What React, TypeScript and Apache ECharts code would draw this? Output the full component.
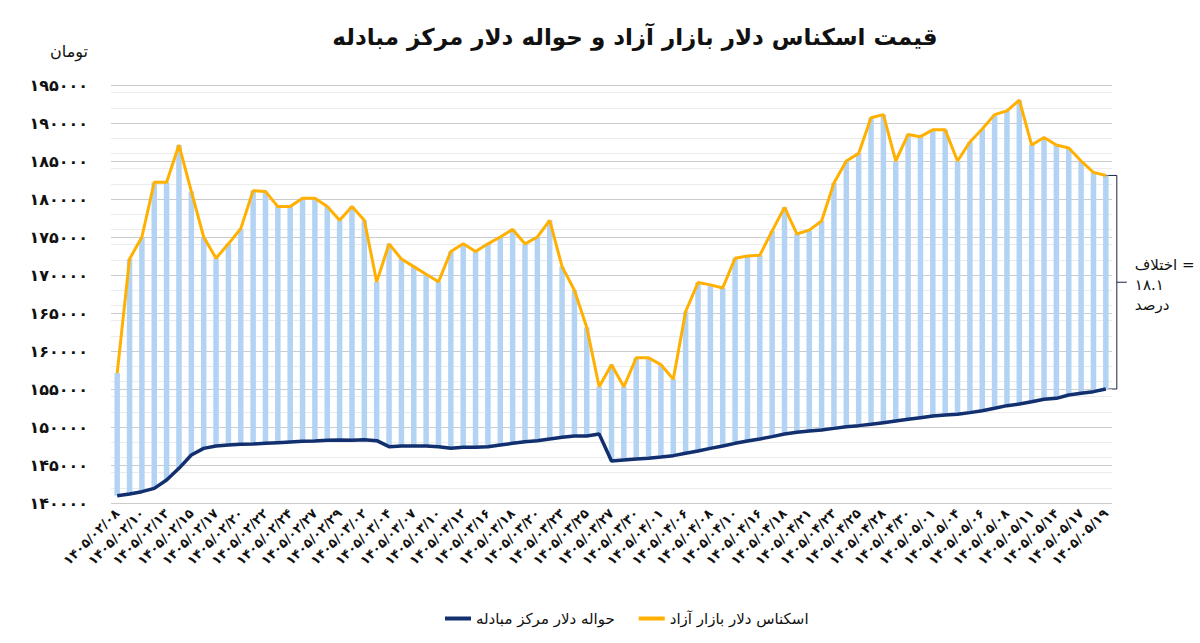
import React, { useEffect, useRef } from "react";
import * as echarts from "echarts";

const TITLE = "قیمت اسکناس دلار بازار آزاد و حواله دلار مرکز مبادله";
const UNIT = "تومان";
const FREE_NAME = "اسکناس دلار بازار آزاد";
const CENTER_NAME = "حواله دلار مرکز مبادله";

const CATEGORIES = [
  "1405/02/08", "1405/02/09", "1405/02/10", "1405/02/12", "1405/02/13", "1405/02/14",
  "1405/02/15", "1405/02/16", "1405/02/17", "1405/02/19", "1405/02/20", "1405/02/21",
  "1405/02/22", "1405/02/23", "1405/02/24", "1405/02/26", "1405/02/27", "1405/02/28",
  "1405/02/29", "1405/02/30", "1405/03/02", "1405/03/03", "1405/03/04", "1405/03/06",
  "1405/03/07", "1405/03/09", "1405/03/10", "1405/03/11", "1405/03/12", "1405/03/13",
  "1405/03/16", "1405/03/17", "1405/03/18", "1405/03/19", "1405/03/20", "1405/03/21",
  "1405/03/23", "1405/03/24", "1405/03/25", "1405/03/26", "1405/03/27", "1405/03/28",
  "1405/03/30", "1405/03/31", "1405/04/01", "1405/04/02", "1405/04/06", "1405/04/07",
  "1405/04/08", "1405/04/09", "1405/04/10", "1405/04/13", "1405/04/16", "1405/04/17",
  "1405/04/18", "1405/04/20", "1405/04/21", "1405/04/22", "1405/04/23", "1405/04/24",
  "1405/04/25", "1405/04/27", "1405/04/28", "1405/04/29", "1405/04/30", "1405/04/31",
  "1405/05/01", "1405/05/03", "1405/05/04", "1405/05/05", "1405/05/06", "1405/05/07",
  "1405/05/08", "1405/05/10", "1405/05/11", "1405/05/12", "1405/05/14", "1405/05/15",
  "1405/05/17", "1405/05/18", "1405/05/19",
];

const FREE_MARKET = [
  157100, 172100, 175000, 182200, 182200, 187100, 181000, 175000, 172200, 174100,
  176100, 181100, 181000, 179000, 179000, 180100, 180100, 179000, 177200, 179000,
  177200, 169100, 174100, 172100, 171100, 170100, 169100, 173100, 174100, 173100,
  174100, 175000, 176000, 174100, 175000, 177200, 171100, 168000, 163100, 155300,
  158200, 155300, 159100, 159100, 158200, 156300, 165200, 169000, 168700, 168300,
  172200, 172500, 172600, 175800, 178900, 175400, 175900, 177100, 182100, 185000,
  186000, 190700, 191100, 185000, 188500, 188200, 189100, 189100, 185000, 187500,
  189200, 191100, 191600, 193000, 187100, 188100, 187100, 186700, 185000, 183500,
  183100,
];

const EXCHANGE_CENTER = [
  140960, 141180, 141490, 141930, 143030, 144560, 146320, 147190, 147500, 147630,
  147720, 147760, 147850, 147940, 148030, 148110, 148160, 148250, 148290, 148250,
  148330, 148200, 147410, 147500, 147500, 147500, 147410, 147190, 147320, 147320,
  147410, 147630, 147850, 148070, 148200, 148420, 148640, 148820, 148820, 149080,
  145530, 145660, 145790, 145880, 146050, 146230, 146540, 146840, 147190, 147500,
  147850, 148160, 148420, 148730, 149080, 149300, 149470, 149610, 149820, 150040,
  150180, 150350, 150570, 150790, 151010, 151230, 151450, 151580, 151670, 151890,
  152150, 152460, 152810, 153030, 153330, 153640, 153770, 154210, 154430, 154650,
  155000,
];

const Y_MIN = 140000;
const Y_MAX = 195000;
const Y_STEP = 5000;
const Y_MINOR_STEP = 2000;

const FONT = "'DejaVu Sans', 'Noto Sans', sans-serif";
const C_FREE = "#FFB000";
const C_CENTER = "#12306F";
const C_BAR = "#B3D3F4";

const toFa = (s: string | number) =>
  String(s).replace(/\d/g, (d) => "۰۱۲۳۴۵۶۷۸۹"[Number(d)]);

export default function App() {
  const ref = useRef<HTMLDivElement>(null);

  useEffect(() => {
    document.body.style.margin = "0";
    if (!ref.current) return;
    const chart = echarts.init(ref.current, undefined, { renderer: "svg" });
    const gap = FREE_MARKET.map((v, i) => v - EXCHANGE_CENTER[i]);

    chart.setOption({
      animation: false,
      backgroundColor: "#ffffff",
      title: {
        text: TITLE,
        left: 630,
        top: 20,
        textAlign: "center",
        textStyle: { fontFamily: FONT, fontSize: 23, fontWeight: "bold", color: "#111" },
      },
      legend: {
        data: [CENTER_NAME, FREE_NAME],
        left: 440,
        top: 606,
        icon: "rect",
        itemWidth: 26,
        itemHeight: 4,
        itemGap: 24,
        textStyle: { fontFamily: FONT, fontSize: 15, color: "#111" },
      },
      grid: { left: 111, right: 88, top: 85, bottom: 140 },
      xAxis: {
        type: "category",
        data: CATEGORIES,
        boundaryGap: true,
        axisLine: { show: false },
        axisTick: { show: false },
        axisLabel: {
          interval: 1,
          rotate: 45,
          margin: 8,
          fontFamily: FONT,
          fontSize: 13,
          fontWeight: "bold",
          color: "#111",
          formatter: (v: string) => toFa(v),
        },
      },
      yAxis: [
        {
          type: "value",
          min: Y_MIN,
          max: Y_MAX,
          interval: Y_STEP,
          z: 1,
          axisLine: { show: false },
          axisTick: { show: false },
          axisLabel: {
            margin: 23,
            fontFamily: FONT,
            fontSize: 16,
            fontWeight: "bold",
            color: "#111",
            formatter: (v: number) => toFa(v),
          },
          splitLine: { lineStyle: { color: "#cccccc", width: 1 } },
          name: UNIT,
          nameLocation: "end",
          nameGap: 26,
          nameTextStyle: {
            align: "right",
            padding: [0, 23, 0, 0],
            fontFamily: FONT,
            fontSize: 16,
            color: "#111",
          },
        },
        {
          type: "value",
          min: Y_MIN,
          max: Y_MAX,
          interval: Y_MINOR_STEP,
          z: 0,
          position: "left",
          axisLine: { show: false },
          axisTick: { show: false },
          axisLabel: { show: false },
          splitLine: { lineStyle: { color: "#ebebeb", width: 1 } },
        },
      ],
      series: [
        {
          name: "base",
          type: "bar",
          stack: "gap",
          data: EXCHANGE_CENTER,
          barWidth: 5.5,
          silent: true,
          itemStyle: { color: "rgba(0,0,0,0)" },
        },
        {
          name: "gap",
          type: "bar",
          stack: "gap",
          data: gap,
          barWidth: 5.5,
          itemStyle: { color: C_BAR },
        },
        {
          name: CENTER_NAME,
          type: "line",
          data: EXCHANGE_CENTER,
          symbol: "none",
          z: 3,
          lineStyle: { color: C_CENTER, width: 3.5 },
          itemStyle: { color: C_CENTER },
        },
        {
          name: FREE_NAME,
          type: "line",
          data: FREE_MARKET,
          symbol: "none",
          z: 4,
          lineStyle: { color: C_FREE, width: 3 },
          itemStyle: { color: C_FREE },
        },
      ],
    });

    const last = CATEGORIES.length - 1;
    const top = chart.convertToPixel({ xAxisIndex: 0, yAxisIndex: 0 }, [last, FREE_MARKET[last]]) as number[];
    const bot = chart.convertToPixel({ xAxisIndex: 0, yAxisIndex: 0 }, [last, EXCHANGE_CENTER[last]]) as number[];
    const bx = top[0] + 11;
    const mid = (top[1] + bot[1]) / 2;
    const pct = ((FREE_MARKET[last] / EXCHANGE_CENTER[last] - 1) * 100).toFixed(1);
    const lineStyle = { stroke: "#1d2340", lineWidth: 1 };

    chart.setOption({
      graphic: [
        { type: "line", shape: { x1: top[0] - 1, y1: top[1], x2: bx, y2: top[1] }, style: lineStyle },
        { type: "line", shape: { x1: bx, y1: top[1], x2: bx, y2: bot[1] }, style: lineStyle },
        { type: "line", shape: { x1: bot[0] + 2, y1: bot[1], x2: bx, y2: bot[1] }, style: lineStyle },
        { type: "line", shape: { x1: bx, y1: mid, x2: bx + 10, y2: mid }, style: lineStyle },
        {
          type: "text",
          x: bx + 18,
          y: mid + 3,
          style: {
            text: "اختلاف =\n" + toFa(pct) + "\nدرصد",
            fontFamily: FONT,
            fontSize: 15,
            lineHeight: 20,
            fill: "#111",
            align: "left",
            verticalAlign: "middle",
          },
        },
      ],
    });

    return () => chart.dispose();
  }, []);

  return <div ref={ref} style={{ width: 1200, height: 643 }} />;
}
